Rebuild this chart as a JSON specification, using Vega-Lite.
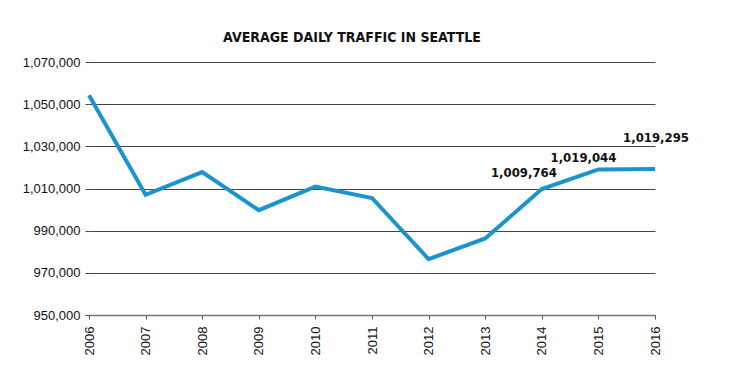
{
  "$schema": "https://vega.github.io/schema/vega-lite/v6.json",
  "width": 566,
  "height": 253,
  "autosize": {"type": "none"},
  "padding": {"left": 89, "top": 62, "right": 74, "bottom": 74},
  "background": "white",
  "title": {
    "text": "AVERAGE DAILY TRAFFIC IN SEATTLE",
    "font": "DejaVu Sans Condensed",
    "fontWeight": "bold",
    "fontSize": 14,
    "color": "#111111",
    "anchor": "middle",
    "dx": -20,
    "offset": 11
  },
  "data": {
    "values": [
      {"year": 2006, "traffic": 1054200},
      {"year": 2007, "traffic": 1007000},
      {"year": 2008, "traffic": 1017800},
      {"year": 2009, "traffic": 999700},
      {"year": 2010, "traffic": 1010900},
      {"year": 2011, "traffic": 1005500},
      {"year": 2012, "traffic": 976500},
      {"year": 2013, "traffic": 986300},
      {"year": 2014, "traffic": 1009764},
      {"year": 2015, "traffic": 1019044},
      {"year": 2016, "traffic": 1019295}
    ]
  },
  "encoding": {
    "x": {
      "field": "year",
      "type": "quantitative",
      "scale": {"domain": [2006, 2016], "nice": false, "zero": false},
      "axis": {
        "title": null,
        "values": [2006, 2007, 2008, 2009, 2010, 2011, 2012, 2013, 2014, 2015, 2016],
        "format": "d",
        "grid": false,
        "domainColor": "#777777",
        "domainWidth": 1.5,
        "tickColor": "#555555",
        "tickSize": 4,
        "labelAngle": 270,
        "labelAlign": "right",
        "labelBaseline": "middle",
        "labelPadding": 7,
        "labelFont": "Liberation Sans",
        "labelFontSize": 13,
        "labelColor": "#111111"
      }
    },
    "y": {
      "field": "traffic",
      "type": "quantitative",
      "scale": {"domain": [950000, 1070000], "nice": false, "zero": false},
      "axis": {
        "title": null,
        "values": [950000, 970000, 990000, 1010000, 1030000, 1050000, 1070000],
        "format": ",.0f",
        "grid": true,
        "gridColor": "#444444",
        "gridWidth": 1,
        "domain": false,
        "tickColor": "#444444",
        "tickSize": 4,
        "labelPadding": 5,
        "labelFont": "Liberation Sans",
        "labelFontSize": 13,
        "labelColor": "#111111"
      }
    }
  },
  "layer": [
    {
      "mark": {"type": "line", "color": "#1b93cf", "strokeWidth": 4, "strokeJoin": "miter"}
    },
    {
      "transform": [{"filter": "datum.year == 2014"}],
      "mark": {"type": "text", "font": "DejaVu Sans Condensed", "fontWeight": "bold", "fontSize": 13, "align": "right", "baseline": "alphabetic", "dx": 15, "dy": -12, "color": "#111111"},
      "encoding": {"text": {"field": "traffic", "type": "quantitative", "format": ",.0f"}}
    },
    {
      "transform": [{"filter": "datum.year == 2015"}],
      "mark": {"type": "text", "font": "DejaVu Sans Condensed", "fontWeight": "bold", "fontSize": 13, "align": "right", "baseline": "alphabetic", "dx": 18, "dy": -7, "color": "#111111"},
      "encoding": {"text": {"field": "traffic", "type": "quantitative", "format": ",.0f"}}
    },
    {
      "transform": [{"filter": "datum.year == 2016"}],
      "mark": {"type": "text", "font": "DejaVu Sans Condensed", "fontWeight": "bold", "fontSize": 13, "align": "center", "baseline": "alphabetic", "dx": 1, "dy": -27, "color": "#111111"},
      "encoding": {"text": {"field": "traffic", "type": "quantitative", "format": ",.0f"}}
    }
  ],
  "config": {"view": {"stroke": null}}
}
